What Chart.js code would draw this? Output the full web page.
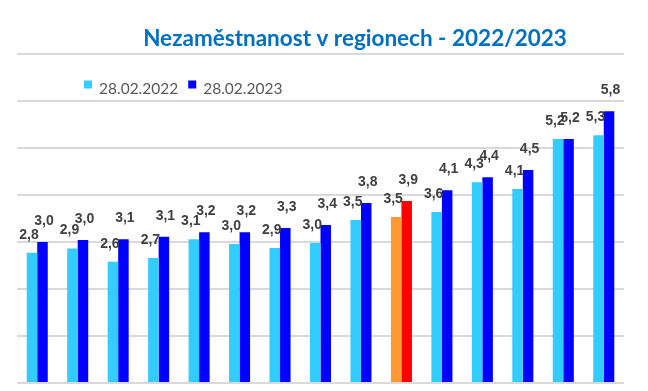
<!DOCTYPE html>
<html>
<head>
<meta charset="utf-8">
<script src="https://cdn.jsdelivr.net/npm/chart.js@4.4.0/dist/chart.umd.min.js"></script>
<style>
  html, body { margin: 0; padding: 0; background: #fff; }
</style>
</head>
<body>
<canvas id="barChart" width="648" height="391"></canvas>
<script>
// kraje (popisky osy jsou v obrázku oříznuté)
var kraje = ['PAK', 'ZLK', 'JHČ', 'VYS', 'PLK', 'HKK', 'PHA', 'STČ', 'JHM', 'ČR', 'LBK', 'OLK', 'KVK', 'MSK', 'ÚNK'];
var rok2022 = [2.77, 2.86, 2.58, 2.66, 3.06, 2.96, 2.87, 2.98, 3.47, 3.53, 3.64, 4.27, 4.13, 5.19, 5.27];
var rok2023 = [3.00, 3.04, 3.06, 3.11, 3.21, 3.21, 3.30, 3.36, 3.83, 3.87, 4.10, 4.38, 4.53, 5.19, 5.78];
var legenda = ['28.02.2022', '28.02.2023'];
var yTicks = [0, 1, 2, 3, 4, 5, 6, 7];

// ČR má vlastní barvy (oranžová / červená)
var barvy2022 = kraje.map(function (k) { return k === 'ČR' ? '#FF9933' : '#33CCFF'; });
var barvy2023 = kraje.map(function (k) { return k === 'ČR' ? '#FF0000' : '#0000FF'; });

function formatCZ(v) {
    return v.toFixed(1).replace('.', ',');
}

// titulek, legenda a popisky hodnot
var popiskyPlugin = {
    id: 'popisky',
    afterDatasetsDraw: function (chart) {
        var ctx = chart.ctx;
        var area = chart.chartArea;
        ctx.save();

        // hodnoty nad sloupci
        ctx.font = 'bold 14px "Liberation Sans", Arial, sans-serif';
        ctx.fillStyle = '#404040';
        ctx.textAlign = 'center';
        ctx.textBaseline = 'middle';
        chart.data.datasets.forEach(function (ds, i) {
            var meta = chart.getDatasetMeta(i);
            var dx = i === 0 ? -3 : 1.5;
            var dy = i === 0 ? -18 : -21;
            meta.data.forEach(function (bar, j) {
                ctx.fillText(formatCZ(ds.data[j]), bar.x + dx, bar.y + dy);
            });
        });

        // titulek
        ctx.font = 'bold 22.5px Lato, "Open Sans", sans-serif';
        ctx.fillStyle = '#0070C0';
        ctx.textAlign = 'center';
        ctx.textBaseline = 'alphabetic';
        ctx.fillText('Nezaměstnanost v regionech - 2022/2023', 355, 46);

        // legenda
        ctx.font = '15.5px Lato, "Open Sans", sans-serif';
        ctx.textAlign = 'left';
        var x = area.left + 67;
        var barvyLeg = ['#33CCFF', '#0000FF'];
        legenda.forEach(function (txt, i) {
            ctx.fillStyle = barvyLeg[i];
            ctx.fillRect(x, 80.5, 8, 8);
            ctx.fillStyle = '#595959';
            ctx.fillText(txt, x + 15, 94);
            x += 15 + ctx.measureText(txt).width + 10;
        });

        ctx.restore();
    }
};

var barCanvas = document.getElementById('barChart').getContext('2d');

var data = {
    labels: kraje,
    datasets: [{
        label: legenda[0],
        data: rok2022,
        backgroundColor: barvy2022
    }, {
        label: legenda[1],
        data: rok2023,
        backgroundColor: barvy2023
    }]
};

var barOptions = {
    responsive: false,
    animation: false,
    layout: {
        padding: { left: 17, right: 24, top: 54, bottom: 8 }
    },
    plugins: {
        legend: { display: false },
        title: { display: false },
        tooltip: { enabled: false }
    },
    datasets: {
        bar: {
            categoryPercentage: 0.52,
            barPercentage: 1.0
        }
    },
    scales: {
        x: {
            grid: { display: false, drawTicks: false },
            border: { display: false },
            ticks: { display: false }
        },
        y: {
            min: yTicks[0],
            max: yTicks[yTicks.length - 1],
            afterBuildTicks: function (axis) {
                axis.ticks = yTicks.map(function (v) { return { value: v }; });
            },
            grid: { color: '#D9D9D9', lineWidth: 2, drawTicks: false },
            border: { display: false },
            ticks: { display: false }
        }
    }
};

var barChart = new Chart(barCanvas, {
    type: 'bar',
    data: data,
    options: barOptions,
    plugins: [popiskyPlugin]
});
</script>
</body>
</html>
